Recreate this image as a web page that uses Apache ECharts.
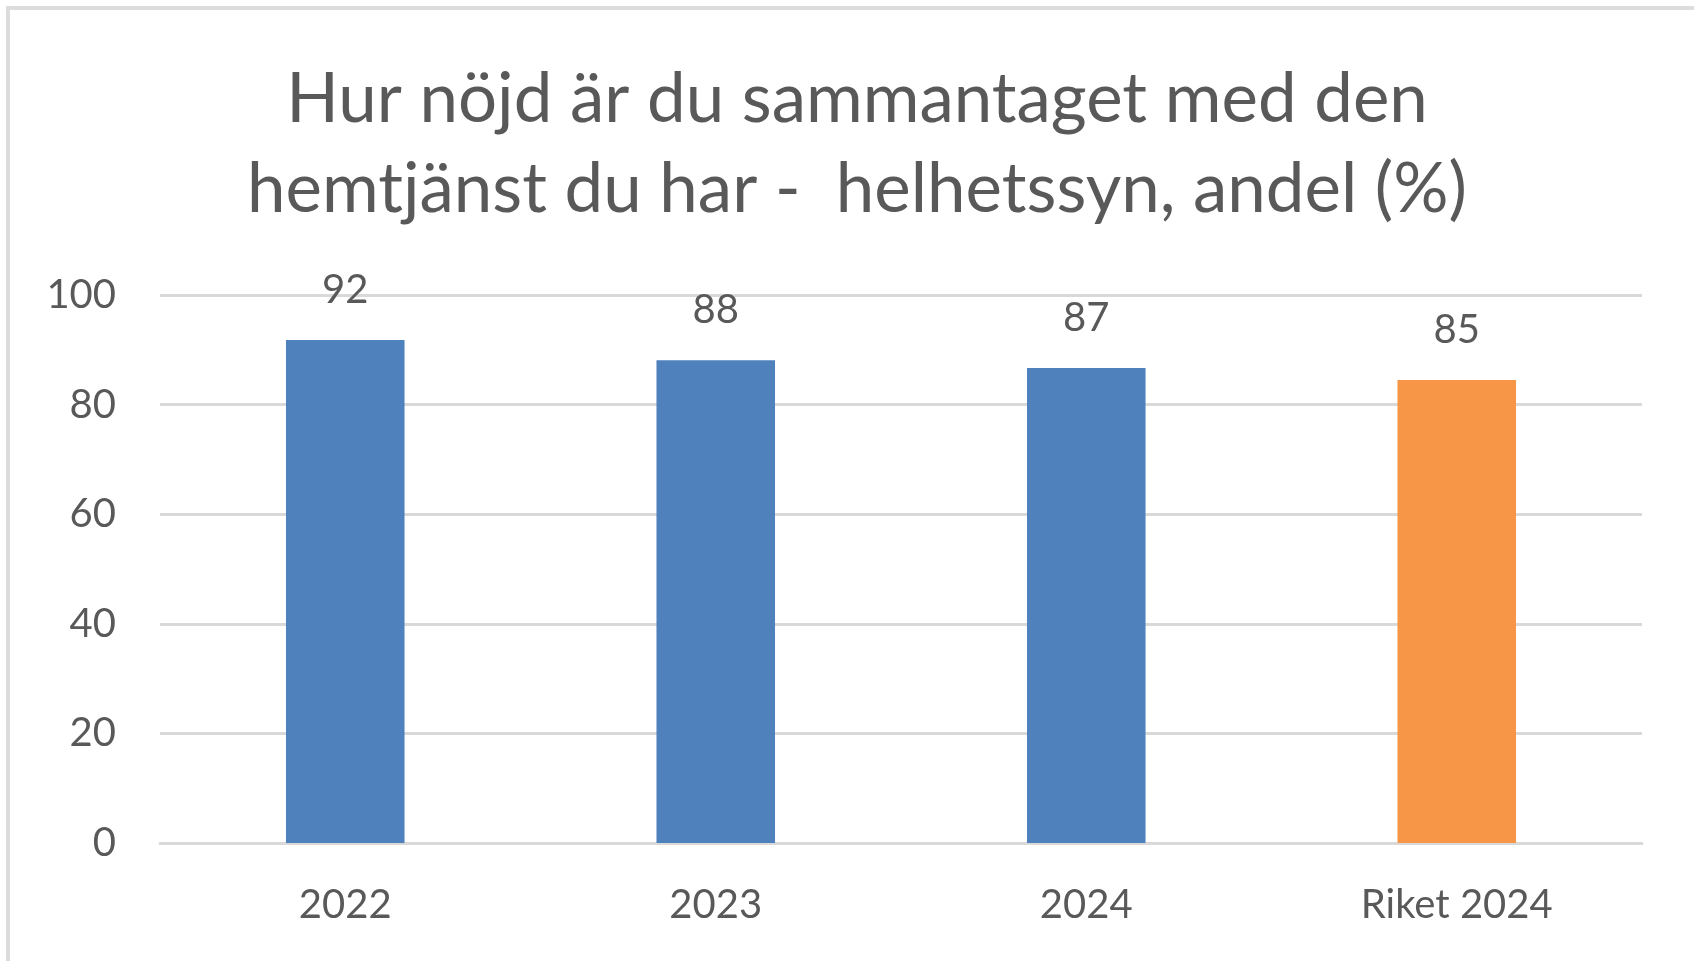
<!DOCTYPE html>
<html>
<head>
<meta charset="utf-8">
<title>Hur nöjd är du sammantaget med den hemtjänst du har</title>
<script src="https://cdn.jsdelivr.net/npm/echarts@6/dist/echarts.min.js"></script>
<style>
  html, body { margin: 0; padding: 0; background: #fff; }
  #chart { width: 1694px; height: 961px; }
</style>
</head>
<body>
<div id="chart"></div>
<script>
// Data
const titleText = 'Hur nöjd är du sammantaget med den\nhemtjänst du har -  helhetssyn, andel (%)';
const categories = ['2022', '2023', '2024', 'Riket 2024'];
const values = [91.8, 88.1, 86.7, 84.5];
const barColors = ['#4f81bd', '#4f81bd', '#4f81bd', '#f79646'];
const yTicks = [0, 20, 40, 60, 80, 100];

document.addEventListener('DOMContentLoaded', function() {
    const chart = echarts.init(document.getElementById('chart'));
    const textColor = '#595959';
    const font = 'Lato, "Open Sans", sans-serif';

    const option = {
        animation: false,
        backgroundColor: '#fff',
        textStyle: { fontFamily: font },
        graphic: [{
            // chart frame, only left and top edges visible
            type: 'rect',
            shape: { x: 8, y: 8, width: 2000, height: 2000 },
            style: { fill: 'none', stroke: '#dcdcdc', lineWidth: 4 },
            silent: true
        }],
        title: {
            text: titleText,
            left: 852,
            top: 50,
            textAlign: 'center',
            textStyle: {
                color: textColor,
                fontFamily: font,
                fontWeight: 'normal',
                fontSize: 69,
                lineHeight: 90
            }
        },
        grid: {
            left: 160,
            right: 52,
            top: 295,
            bottom: 118
        },
        xAxis: {
            type: 'category',
            data: categories,
            axisTick: { show: false },
            axisLine: { show: true, lineStyle: { color: '#d9d9d9', width: 3 } },
            axisLabel: {
                color: textColor,
                fontSize: 40,
                margin: 42
            }
        },
        yAxis: {
            type: 'value',
            min: yTicks[0],
            max: yTicks[yTicks.length - 1],
            interval: 20,
            axisLine: { show: false },
            axisTick: { show: false },
            splitLine: { lineStyle: { color: '#d9d9d9', width: 3 } },
            axisLabel: {
                color: textColor,
                fontSize: 40,
                margin: 44
            }
        },
        series: [{
            type: 'bar',
            barWidth: '32%',
            data: values.map((v, i) => ({ value: v, itemStyle: { color: barColors[i] } })),
            label: {
                show: true,
                position: 'top',
                distance: 30,
                color: textColor,
                fontSize: 40,
                formatter: p => Math.round(p.value)
            }
        }]
    };
    chart.setOption(option);
});
</script>
</body>
</html>
